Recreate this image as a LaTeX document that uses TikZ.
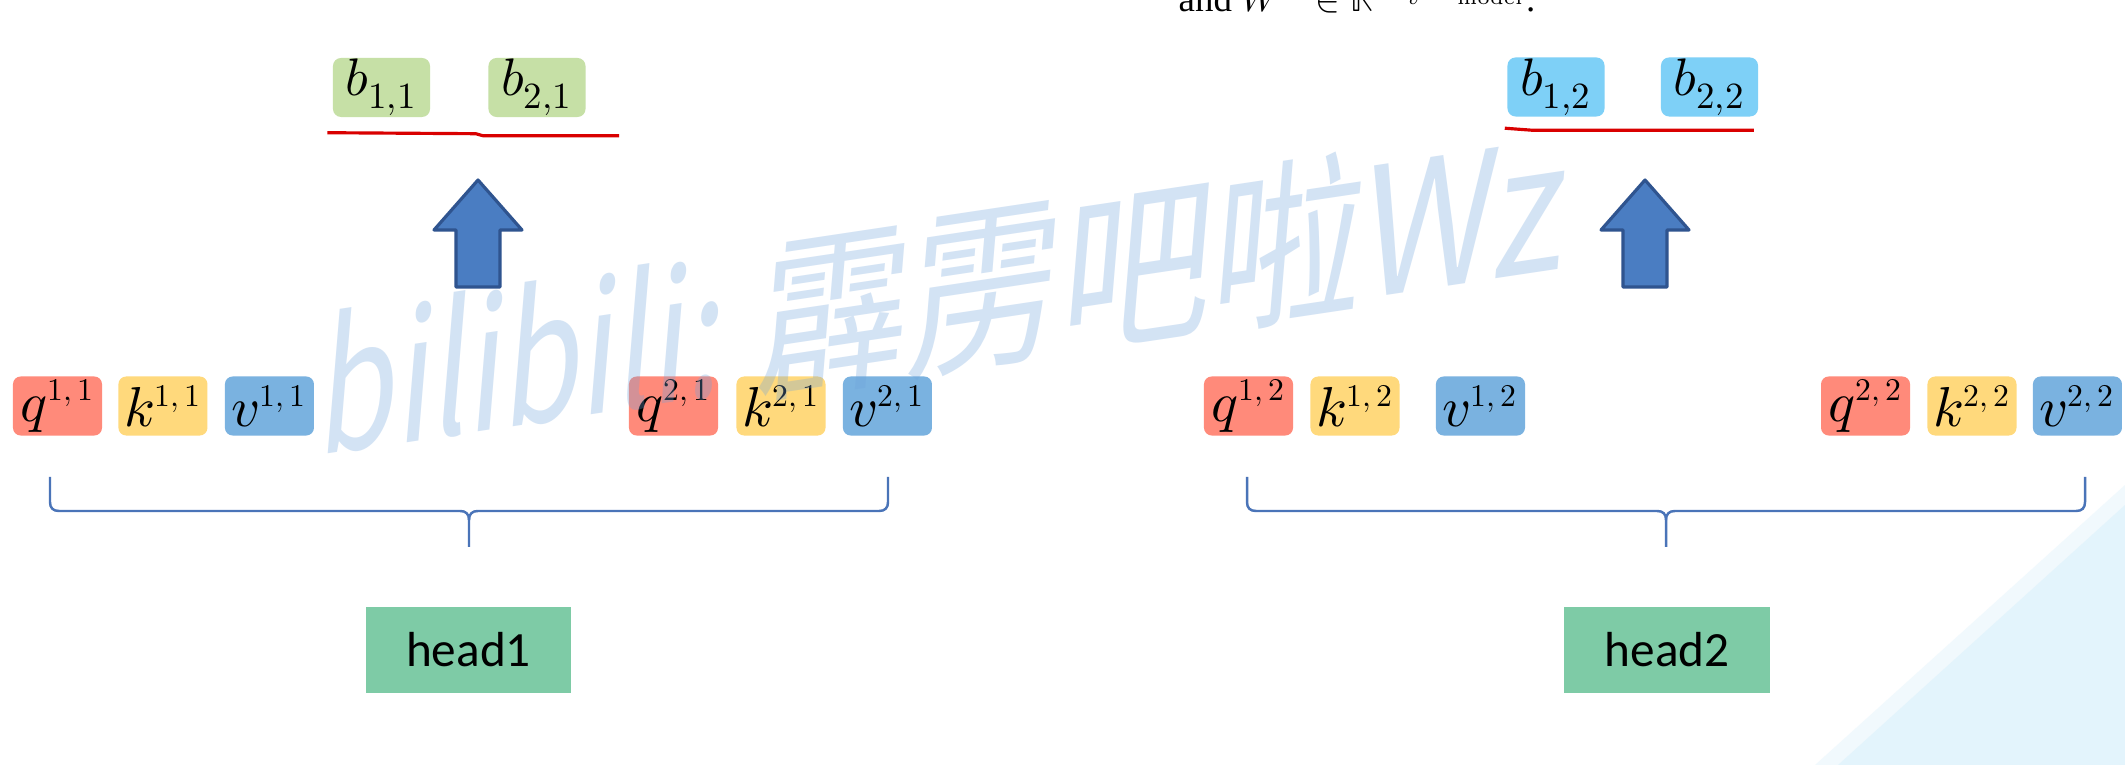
\documentclass[tikz,border=0pt]{standalone}
\usepackage{fontspec}
\usepackage{unicode-math}
\usepackage{tikz}
\usetikzlibrary{positioning,calc}
\newfontfamily\calibri{Carlito}
\newfontfamily\cjkfont{Noto Sans CJK SC}
\newfontfamily\timesfont{Liberation Serif}
\DeclareMathSizes{16}{16}{9}{7}
\DeclareMathSizes{15}{15}{10.5}{7.5}
\definecolor{qred}{HTML}{FF8A7A}
\definecolor{kyellow}{HTML}{FFD97C}
\definecolor{vblue}{HTML}{7AB2E0}
\definecolor{bgreen}{HTML}{C6E0A6}
\definecolor{bblue}{HTML}{7ED0F7}
\definecolor{headgreen}{HTML}{7ECBA6}
\definecolor{arrowfill}{HTML}{4A7DC2}
\definecolor{arrowedge}{HTML}{2F548F}
\definecolor{bracecol}{HTML}{4A74B8}
\definecolor{wmblue}{HTML}{6FA3DC}
\definecolor{cornerblue}{HTML}{E3F4FC}
\tikzset{
  tok/.style={rounded corners=2.2pt,minimum width=0.89cm,minimum height=0.59cm,
    inner sep=0pt,font=\fontsize{16}{18}\selectfont},
  qtok/.style={tok,fill=qred},
  ktok/.style={tok,fill=kyellow},
  vtok/.style={tok,fill=vblue},
  outbox/.style={rounded corners=2.3pt,minimum width=0.97cm,minimum height=0.59cm,
    inner sep=0pt,font=\fontsize{15}{18}\selectfont},
  headbox/.style={fill=headgreen,minimum width=2.05cm,minimum height=0.86cm,
    inner sep=0pt,font=\calibri\fontsize{14}{16}\selectfont},
  redline/.style={draw=red!85!black,line width=0.9pt,line join=round},
  uparrow/.pic={
    \draw[draw=arrowedge,fill=arrowfill,line width=0.9pt,line join=round]
      (-22,0) -- (22,0) -- (22,-57) -- (44,-57) -- (0,-107) -- (-44,-57) -- (-22,-57) -- cycle;
  },
  headbrace/.pic={
    \draw[bracecol,line width=0.7pt]
      (-419,0) -- (-419,25) .. controls (-419,31) and (-416,34) .. (-410,34)
      -- (-9,34) .. controls (-3,34) and (0,37) .. (0,43) -- (0,70);
    \draw[bracecol,line width=0.7pt]
      (419,0) -- (419,25) .. controls (419,31) and (416,34) .. (410,34)
      -- (9,34) .. controls (3,34) and (0,37) .. (0,43);
  },
  watermark/.style={anchor=base west,inner sep=0pt,text=wmblue,text opacity=0.3,
    cm={1,0.15,0.1,1.2,(0,0)},font=\cjkfont\fontsize{43}{43}\selectfont},
}

\begin{document}
\begin{tikzpicture}[x=0.01cm,y=-0.01cm]
\useasboundingbox (0,0) rectangle (2125,765);
\fill[white] (0,0) rectangle (2125,765);
\fill[cornerblue!50] (2125,485) -- (2125,765) -- (1815,765) -- cycle;
\fill[cornerblue] (2125,505) -- (2125,765) -- (1838,765) -- cycle;

% head 1
\node[qtok] (q11) at (57.5,406) {$q^{1,\,1}$};
\node[ktok, right=0.15cm of q11] (k11) {$k^{1,\,1}$};
\node[vtok, right=0.16cm of k11] (v11) {$v^{1,\,1}$};
\node[qtok] (q21) at (673.5,406) {$q^{2,\,1}$};
\node[ktok, right=0.17cm of q21] (k21) {$k^{2,\,1}$};
\node[vtok, right=0.16cm of k21] (v21) {$v^{2,\,1}$};
\pic at (469,477) {headbrace};
\node[headbox] (head1) at (468.5,650) {head1};
\pic at (478,287) {uparrow};
\node[outbox, fill=bgreen] (b11) at (381.5,87.5) {$b_{1,1}$};
\node[outbox, fill=bgreen, right=0.57cm of b11] (b21) {$b_{2,1}$};
\draw[redline] ($(b11.south west)+(-5,15)$) -- ($(b11.south east)+(45,16)$)
  -- ($(b21.south west)+(-5,18)$) -- ($(b21.south east)+(33,18)$);

% head 2
\node[qtok] (q12) at (1248.5,406) {$q^{1,\,2}$};
\node[ktok, right=0.16cm of q12] (k12) {$k^{1,\,2}$};
\node[vtok, right=0.35cm of k12] (v12) {$v^{1,\,2}$};
\node[qtok] (q22) at (1865.5,406) {$q^{2,\,2}$};
\node[ktok, right=0.16cm of q22] (k22) {$k^{2,\,2}$};
\node[vtok, right=0.15cm of k22] (v22) {$v^{2,\,2}$};
\pic at (1666,477) {headbrace};
\node[headbox] (head2) at (1667,650) {head2};
\pic at (1645,287) {uparrow};
\node[outbox, fill=bblue] (b12) at (1556,87) {$b_{1,2}$};
\node[outbox, fill=bblue, right=0.55cm of b12] (b22) {$b_{2,2}$};
\draw[redline] ($(b12.south west)+(-2,11)$) -- ($(b12.south west)+(25,13)$)
  -- ($(b22.south east)+(-5,13)$);

% text cut off by the top edge
\node[anchor=base west, inner sep=0pt, font=\timesfont\fontsize{10.5}{12}\selectfont]
  (eqtxt) at (1178,12) {and $W^O\in\mathbb{R}^{hd_v\times d_{\mathrm{model}}}$.};

% watermark
\node[watermark] (wm) at (316,456) {\scalebox{0.84}[1]{bilibili:} 霹雳吧啦Wz};
\end{tikzpicture}
\end{document}
